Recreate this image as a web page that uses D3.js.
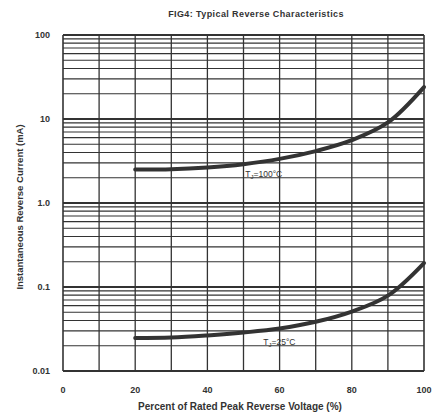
<!DOCTYPE html>
<meta charset="utf-8">
<head>
<style>
  body { margin: 0; background: #fff; }
  text { font-family: "Liberation Sans", Arial, sans-serif; font-weight: bold; fill: #333; }
  .grid line { stroke: #333; stroke-width: 1.1px; }
  .curve { fill: none; stroke: #333; stroke-width: 4px; stroke-linecap: round; }
</style>
</head>
<body>
<script src="https://d3js.org/d3.v7.min.js"></script>
<script>
// data
var voltage = [20, 30, 40, 50, 60, 70, 80, 90, 100];
var current100 = [2.5, 2.52, 2.65, 2.9, 3.35, 4.15, 5.6, 9.1, 24];
var current25 = [0.0247, 0.025, 0.0265, 0.0287, 0.032, 0.0385, 0.051, 0.079, 0.193];
var xTicks = [0, 20, 40, 60, 80, 100];
var yTicks = [0.01, 0.1, 1, 10, 100];
var yTickLabels = ["0.01", "0.1", "1.0", "10", "100"];

var margin = { top: 35, right: 13, bottom: 49, left: 63 },
    width = 437 - margin.left - margin.right,
    height = 420 - margin.top - margin.bottom;

var x = d3.scaleLinear().domain([0, 100]).range([0, width]);
var y = d3.scaleLog().domain([0.01, 100]).range([height, 0]);

var svg = d3.select("body").append("svg")
    .attr("width", 437)
    .attr("height", 420);

svg.append("text")
    .attr("x", 256).attr("y", 17)
    .attr("text-anchor", "middle")
    .style("font-size", "9px")
    .style("letter-spacing", "0.4px")
    .text("FIG4:  Typical Reverse Characteristics");

var g = svg.append("g")
    .attr("transform", "translate(" + margin.left + "," + margin.top + ")");

// log grid: every minor step in each decade
var minor = [];
yTicks.slice(0, -1).forEach(function(d) {
  for (var k = 1; k < 10; k++) minor.push(d * k);
});
minor.push(100);

var grid = g.append("g").attr("class", "grid");
grid.selectAll(".h").data(minor).enter().append("line")
    .attr("x1", 0).attr("x2", width)
    .attr("y1", function(d) { return y(d); })
    .attr("y2", function(d) { return y(d); })
    .style("stroke-width", function(d) {
      return yTicks.indexOf(d) >= 0 ? "2px" : "1.1px";
    });
grid.selectAll(".v").data(d3.range(0, 101, 10)).enter().append("line")
    .attr("y1", 0).attr("y2", height)
    .attr("x1", function(d) { return x(d); })
    .attr("x2", function(d) { return x(d); })
    .style("stroke-width", function(d) { return d === 0 || d === 100 ? "1.6px" : "1.3px"; });

// axis labels
g.selectAll(".xt").data(xTicks).enter().append("text")
    .attr("x", function(d) { return x(d); })
    .attr("y", height + 22)
    .attr("text-anchor", "middle")
    .style("font-size", "9px")
    .text(function(d) { return d; });

g.selectAll(".yt").data(yTicks).enter().append("text")
    .attr("x", -13)
    .attr("y", function(d) { return y(d); })
    .attr("dy", "0.35em")
    .attr("text-anchor", "end")
    .style("font-size", "9px")
    .text(function(d, i) { return yTickLabels[i]; });

svg.append("text")
    .attr("x", 240).attr("y", 410)
    .attr("text-anchor", "middle")
    .style("font-size", "10px")
    .text("Percent of Rated Peak Reverse Voltage (%)");

svg.append("text")
    .attr("transform", "translate(23," + (margin.top + 172) + ") rotate(-90)")
    .attr("text-anchor", "middle")
    .style("font-size", "9.5px")
    .text("Instantaneous Reverse Current (mA)");

// curves
var curveLine = d3.line().curve(d3.curveCatmullRom.alpha(0.5))
    .x(function(d, i) { return x(voltage[i]); })
    .y(function(d) { return y(d); });

g.append("path").datum(current100).attr("class", "curve").attr("d", curveLine);
g.append("path").datum(current25).attr("class", "curve").attr("d", curveLine);

// curve labels
var l1 = g.append("text").attr("x", x(50.5)).attr("y", y(2.05))
    .style("font-size", "8.5px").style("font-weight", "normal");
l1.append("tspan").text("T");
l1.append("tspan").attr("dy", 2).style("font-size", "6px").text("J");
l1.append("tspan").attr("dy", -2).text("=100°C");

var l2 = g.append("text").attr("x", x(55.5)).attr("y", y(0.0205))
    .style("font-size", "8.5px").style("font-weight", "normal");
l2.append("tspan").text("T");
l2.append("tspan").attr("dy", 2).style("font-size", "6px").text("J");
l2.append("tspan").attr("dy", -2).text("=25°C");
</script>
</body>
</html>
